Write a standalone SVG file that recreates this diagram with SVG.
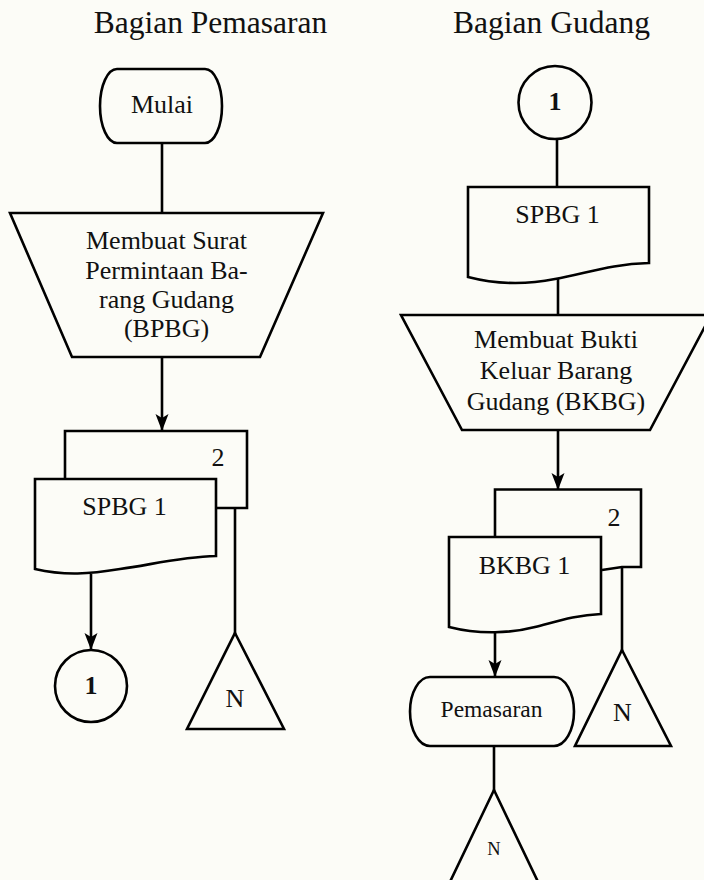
<svg xmlns="http://www.w3.org/2000/svg" width="704" height="880" viewBox="0 0 704 880">
  <defs>
    <style>
      .shape { fill: none; stroke: #000; stroke-width: 2.6; stroke-linejoin: miter; }
      .line { fill: none; stroke: #000; stroke-width: 2.6; }
      .title { font-family: "Liberation Serif", "Times New Roman", serif; font-size: 31.5px; fill: #111; text-anchor: middle; }
      .lbl { font-family: "Liberation Serif", "Times New Roman", serif; font-size: 26px; fill: #111; text-anchor: middle; }
      .num { font-family: "Liberation Serif", "Times New Roman", serif; font-size: 26px; font-weight: bold; fill: #111; text-anchor: middle; }
    </style>
    <marker id="arrow" markerUnits="userSpaceOnUse" markerWidth="20" markerHeight="16" refX="17" refY="7" orient="auto">
      <path d="M17,7 L0,0.5 L4,7 L0,13.5 Z" fill="#000"/>
    </marker>
  </defs>

  <rect x="0" y="0" width="704" height="880" fill="#fcfcf7"/>

  <!-- lane titles -->
  <text class="title" x="210.5" y="33">Bagian Pemasaran</text>
  <text class="title" x="551.5" y="33">Bagian Gudang</text>

  <!-- connectors -->
  <g id="connectors">
    <line class="line" x1="162" y1="143" x2="162" y2="213"/>
    <line class="line" x1="162" y1="357" x2="162" y2="431" marker-end="url(#arrow)"/>
    <line class="line" x1="91" y1="574" x2="91" y2="650" marker-end="url(#arrow)"/>
    <line class="line" x1="235" y1="507" x2="235" y2="634"/>
    <line class="line" x1="557" y1="139" x2="557" y2="187"/>
    <line class="line" x1="558" y1="279" x2="558" y2="315"/>
    <line class="line" x1="558" y1="430" x2="558" y2="490" marker-end="url(#arrow)"/>
    <line class="line" x1="622" y1="567" x2="622" y2="651"/>
    <line class="line" x1="495" y1="633" x2="495" y2="677" marker-end="url(#arrow)"/>
    <line class="line" x1="494" y1="746" x2="494" y2="791"/>
  </g>

  <!-- Bagian Pemasaran -->
  <g id="mulai">
    <path class="shape" d="M117,69 H205 A17,37 0 0 1 205,143 H117 A17,37 0 0 1 117,69 Z"/>
    <text class="lbl" x="162" y="113">Mulai</text>
  </g>

  <g id="buat-bpbg">
    <path class="shape" d="M10,213 H323 L260,357 H72 Z"/>
    <text class="lbl" x="166.5" y="249">Membuat Surat</text>
    <text class="lbl" x="166.5" y="278.5">Permintaan Ba-</text>
    <text class="lbl" x="166.5" y="308">rang Gudang</text>
    <text class="lbl" x="166.5" y="337">(BPBG)</text>
  </g>

  <g id="spbg-stack">
    <path class="shape" d="M65,479 V431 H247 V508 H216"/>
    <text class="lbl" x="218" y="466">2</text>
    <path class="shape" d="M35,479 H216 V556 C180,557 150,565 120,569 C90,574 65,576 35,569 Z"/>
    <text class="lbl" x="124.5" y="515">SPBG 1</text>
  </g>

  <g id="konektor-1-keluar">
    <circle class="shape" cx="91" cy="686" r="36"/>
    <text class="num" x="91" y="694">1</text>
  </g>

  <g id="arsip-n-pemasaran">
    <path class="shape" d="M235,633 L284,729 H187 Z"/>
    <text class="lbl" x="235" y="707">N</text>
  </g>

  <!-- Bagian Gudang -->
  <g id="konektor-1-masuk">
    <circle class="shape" cx="555" cy="102.5" r="36.5"/>
    <text class="num" x="555" y="110">1</text>
  </g>

  <g id="spbg-terima">
    <path class="shape" d="M468,187 H649 V263 C610,264 585,274 555,279 C525,285 495,284 468,277 Z"/>
    <text class="lbl" x="557.5" y="222.5">SPBG 1</text>
  </g>

  <g id="buat-bkbg">
    <path class="shape" d="M401,315 H711 L650,430 H462 Z"/>
    <text class="lbl" x="556" y="348">Membuat Bukti</text>
    <text class="lbl" x="556" y="379">Keluar Barang</text>
    <text class="lbl" x="556" y="410">Gudang (BKBG)</text>
  </g>

  <g id="bkbg-stack">
    <path class="shape" d="M495,537 V489.5 H641 V567 H622 L602,570"/>
    <text class="lbl" x="614" y="526">2</text>
    <path class="shape" d="M449,537 H601 V614 C575,615 555,622 535,627 C512,633 480,635 449,627 Z"/>
    <text class="lbl" x="524.5" y="574">BKBG 1</text>
  </g>

  <g id="arsip-n-gudang">
    <path class="shape" d="M622,650 L671,746 H575 Z"/>
    <text class="lbl" x="622.5" y="721">N</text>
  </g>

  <g id="pemasaran">
    <path class="shape" d="M430,677 H554 A20,34.5 0 0 1 554,746 H430 A20,34.5 0 0 1 430,677 Z"/>
    <text class="lbl" x="491.5" y="717" style="font-size:23.5px">Pemasaran</text>
  </g>

  <g id="arsip-n-akhir">
    <path class="shape" d="M494,790 L540,886 H448 Z"/>
    <text class="lbl" x="494" y="855" style="font-size:18.5px">N</text>
  </g>
</svg>
